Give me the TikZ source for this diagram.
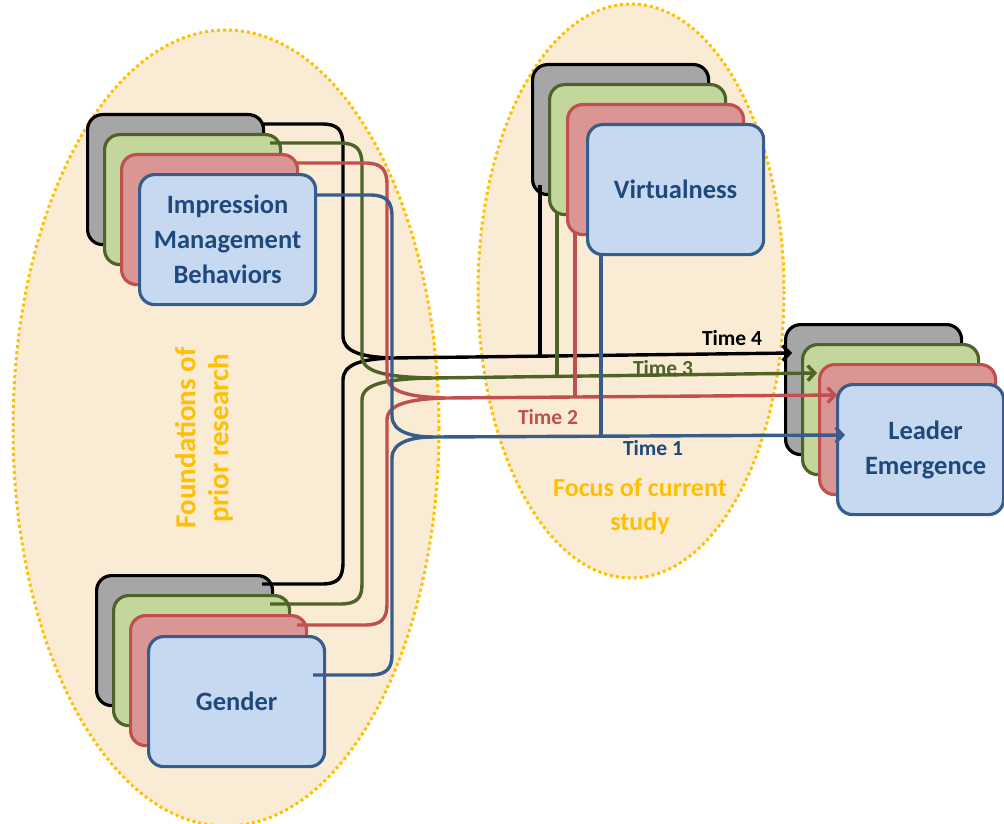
\documentclass[tikz,border=0pt]{standalone}
\usepackage{fontspec}
\setmainfont{Carlito}
\usetikzlibrary{arrows.meta}
\definecolor{grayfill}{HTML}{A6A6A6}
\definecolor{greenfill}{HTML}{C3D69B}
\definecolor{greenline}{HTML}{4F6228}
\definecolor{redfill}{HTML}{D99694}
\definecolor{redline}{HTML}{C0504D}
\definecolor{bluefill}{HTML}{C6D9F1}
\definecolor{blueline}{HTML}{385D8A}
\definecolor{bluetext}{HTML}{1F497D}
\definecolor{parch}{HTML}{FAEBD4}
\definecolor{gold}{HTML}{FFC000}
\newcommand\cardfont{\fontsize{26.5}{35}\selectfont\bfseries}
\newcommand\timefont{\fontsize{21.5}{24}\selectfont\bfseries}
\newcommand\zonefont{\fontsize{29}{33}\selectfont\bfseries}
\newcommand\focusfont{\fontsize{26}{34}\selectfont\bfseries}
\begin{document}
\begin{tikzpicture}[x=1pt,y=-1pt,
  card/.style={draw, line width=3.2pt, rounded corners=15pt, minimum width=176pt,
    minimum height=130pt, inner sep=0pt, anchor=north west, align=center,
    font=\cardfont, text=bluetext},
  cgray/.style={card, fill=grayfill, draw=black},
  cgreen/.style={card, fill=greenfill, draw=greenline},
  cred/.style={card, fill=redfill, draw=redline},
  cblue/.style={card, fill=bluefill, draw=blueline},
  zone/.style={fill=parch, draw=gold, line width=3pt, dash pattern=on 3pt off 3pt},
  wire/.style={line width=3.4pt},
  arr/.style={wire, -{Straight Barb[length=7pt,width=15pt]}},
  timelbl/.style={font=\timefont, inner sep=0pt},
  zonelbl/.style={text=gold, align=center, inner sep=0pt}
]
\useasboundingbox (0,0) rectangle (1004,824);
\clip (0,0) rectangle (1004,824);
% zones
\path[zone] (226,428) ellipse [x radius=213, y radius=398];
\path[zone] (631,291) ellipse [x radius=153, y radius=287];
\node[zonelbl, font=\zonefont, rotate=90] (found) at (204,438) {Foundations of\\prior research};
\node[zonelbl, font=\focusfont] (focus) at (640,507) {Focus of current\\study};

% Impression management stack
\node[cgray] (imA) at (86,113) {};
\node[cgreen] (imB) at (103,133) {};
\node[cred] (imC) at (120,153) {};
\node[cblue] (imD) at (138,173) {\raisebox{3pt}{\parbox{176pt}{\centering Impression\\Management\\Behaviors}}};
% Gender stack
\node[cgray] (gA) at (95,574) {};
\node[cgreen] (gB) at (112,594) {};
\node[cred] (gC) at (129,614) {};
\node[cblue] (gD) at (147,635) {Gender};
% Virtualness stack
\node[cgray] (vA) at (531,63) {};
\node[cgreen] (vB) at (548,83) {};
\node[cred] (vC) at (566,103) {};
\node[cblue] (vD) at (586,123) {Virtualness};
% Leader emergence stack
\node[cgray] (lA) at (784,323) {};
\node[cgreen] (lB) at (801,343) {};
\node[cred] (lC) at (818,363) {};
\node[cblue, minimum width=166pt] (lD) at (836,383) {\hspace*{10pt}Leader\\\hspace*{10pt}Emergence};

% convergence points and endpoints
\coordinate (m4) at (392,358);
\coordinate (m3) at (432,378);
\coordinate (m2) at (445,398);
\coordinate (m1) at (433,437);
\coordinate (t4) at (792,353);
\coordinate (t3) at (817,373);
\coordinate (t2) at (837,395);
\coordinate (t1) at (845,435);
\coordinate (i4) at (262,124);
\coordinate (i3) at (270,143);
\coordinate (i2) at (297,163);
\coordinate (i1) at (315,195);
\coordinate (g4) at (262,584);
\coordinate (g3) at (270,604);
\coordinate (g2) at (297,625);
\coordinate (g1) at (313,675);
\coordinate (v4) at (540,185);
\coordinate (v3) at (557,213);
\coordinate (v2) at (575,233);
\coordinate (v1) at (601,254);

% Time 4 (black)
\draw[wire, black] (i4) -- (322,124) .. controls (338,124) and (343,130) .. (343,146)
  -- (343,336) .. controls (343,352) and (362,357) .. (m4);
\draw[wire, black] (g4) -- (322,584) .. controls (338,584) and (343,578) .. (343,562)
  -- (343,380) .. controls (343,364) and (362,359) .. (m4);
\draw[wire, black] (v4) -- (v4 |- m4);
\draw[arr, black] (m4) -- (t4);
% Time 3 (green)
\draw[wire, greenline] (i3) -- (340,143) .. controls (357,143) and (362,150) .. (362,165)
  -- (362,356) .. controls (362,372) and (385,377) .. (m3);
\draw[wire, greenline] (g3) -- (340,604) .. controls (357,604) and (362,598) .. (362,584)
  -- (362,400) .. controls (362,384) and (385,379) .. (m3);
\draw[wire, greenline] (v3) -- (557,376);
\draw[arr, greenline] (m3) -- (t3);
% Time 2 (red)
\draw[wire, redline] (i2) -- (365,163) .. controls (382,163) and (387,170) .. (387,185)
  -- (387,376) .. controls (387,392) and (410,397) .. (m2);
\draw[wire, redline] (g2) -- (365,625) .. controls (382,625) and (387,618) .. (387,604)
  -- (387,420) .. controls (387,404) and (410,399) .. (m2);
\draw[wire, redline] (v2) -- (575,396);
\draw[arr, redline] (m2) -- (t2);
% Time 1 (blue)
\draw[wire, blueline] (i1) -- (370,195) .. controls (387,195) and (392,202) .. (392,217)
  -- (392,416) .. controls (392,432) and (412,437) .. (m1);
\draw[wire, blueline] (g1) -- (370,675) .. controls (387,675) and (392,668) .. (392,654)
  -- (392,458) .. controls (392,442) and (412,437) .. (m1);
\draw[wire, blueline] (v1) -- (601,436);
\draw[arr, blueline] (m1) -- (t1);

% labels
\node[timelbl, text=black] (lab4) at (732,338) {Time 4};
\node[timelbl, text=greenline] (lab3) at (663,368) {Time 3};
\node[timelbl, text=redline] (lab2) at (548,417) {Time 2};
\node[timelbl, text=bluetext] (lab1) at (653,448) {Time 1};
\end{tikzpicture}
\end{document}
